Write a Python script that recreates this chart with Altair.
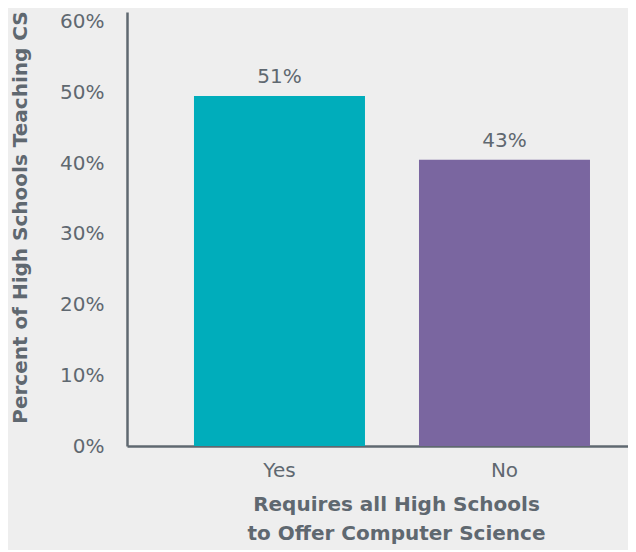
import altair as alt
import pandas as pd

categories = ["Yes", "No"]
values = [49.5, 40.5]
value_labels = ["51%", "43%"]
colors = ["#00adbb", "#7a66a0"]
y_ticks = [0, 10, 20, 30, 40, 50, 60]

df = pd.DataFrame({"cat": categories, "val": values, "lab": value_labels})

FONT = "DejaVu Sans"
AX = "#5f6870"

x_enc = alt.X(
    "cat:N",
    sort=categories,
    scale=alt.Scale(paddingInner=0.24, paddingOuter=0.2333, align=0.638),
    axis=alt.Axis(
        title=["Requires all High Schools", "to Offer Computer Science"],
        labelAngle=0,
        ticks=False,
        labelPadding=14,
        labelFontSize=20,
        labelFont=FONT,
        labelColor=AX,
        domainColor=AX,
        domainWidth=2.5,
        titleFont=FONT,
        titleFontSize=20,
        titleFontWeight="bold",
        titleColor=AX,
        titleLineHeight=29,
        titleBaseline="top",
        titleAlign="center",
        titleAnchor="start",
        titleX=269,
        titleY=48,
    ),
)

y_enc = alt.Y(
    "val:Q",
    scale=alt.Scale(domain=[0, 61.4], nice=False, zero=True),
    axis=alt.Axis(
        title="Percent of High Schools Teaching CS",
        values=y_ticks,
        labelExpr="datum.value + '%'",
        ticks=False,
        grid=False,
        labelPadding=23,
        labelFontSize=20,
        labelFont=FONT,
        labelColor=AX,
        domainColor=AX,
        domainWidth=2.5,
        titleFont=FONT,
        titleFontSize=20,
        titleFontWeight="bold",
        titleColor=AX,
        titleAngle=270,
        titleBaseline="middle",
        titleAlign="center",
        titleAnchor="start",
        titleX=-107,
        titleY=205,
    ),
)

bars = alt.Chart(df).mark_bar().encode(
    x=x_enc,
    y=y_enc,
    color=alt.Color("cat:N", scale=alt.Scale(domain=categories, range=colors), legend=None),
)

text = alt.Chart(df).mark_text(
    dy=-9, baseline="bottom", fontSize=20, font=FONT, color=AX
).encode(
    x=alt.X("cat:N", sort=categories),
    y="val:Q",
    text="lab:N",
)

chart = (
    alt.layer(bars, text)
    .properties(
        width=501,
        height=434,
        background="#eeeeee",
        padding={"left": 119, "top": 4, "right": 0, "bottom": 104},
        autosize=alt.AutoSizeParams(type="none"),
    )
    .configure_view(stroke=None)
)

chart.save("out.html", embed_options={"renderer": "svg", "actions": False})
